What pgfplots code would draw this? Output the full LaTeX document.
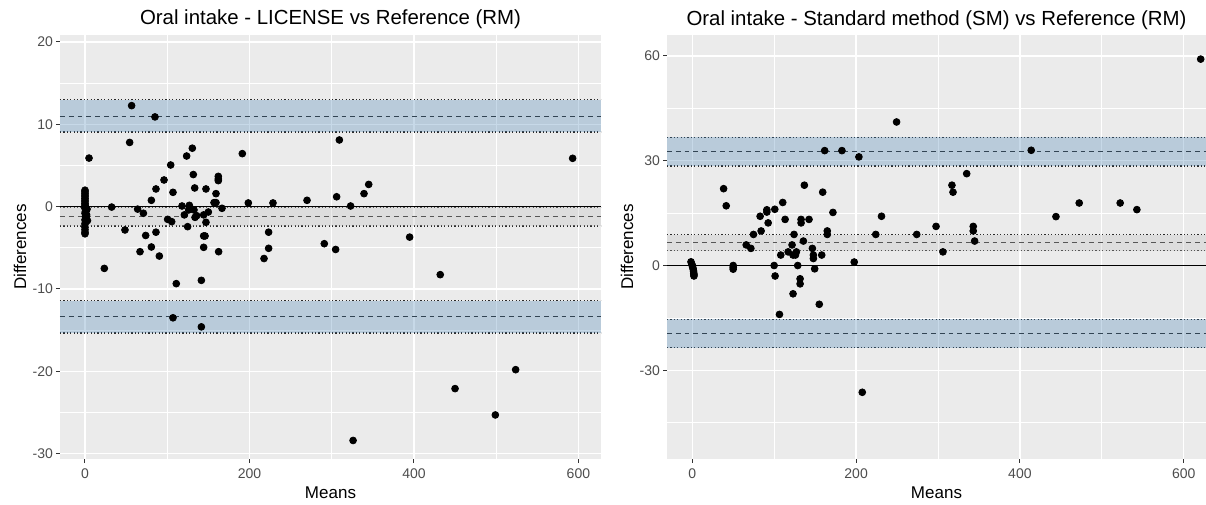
\documentclass[border=0pt]{standalone}
\usepackage{fontspec}
\setmainfont{Liberation Sans}
\usepackage{pgfplots}
\pgfplotsset{compat=1.18}
\definecolor{ggbg}{HTML}{EBEBEB}
\definecolor{ticklab}{HTML}{4D4D4D}
\definecolor{tickcol}{HTML}{333333}
\definecolor{steel}{HTML}{4682B4}
\definecolor{greyband}{HTML}{BEBEBE}
\definecolor{linecol}{HTML}{2A2A2A}
\pgfplotsset{
  ggstyle/.style={
    scale only axis,
    width=270pt, height=212pt,
    axis background/.style={fill=ggbg},
    axis x line*=bottom, axis y line*=left,
    axis line style={draw=none},
    tick align=outside,
    major tick length=2pt,
    minor tick length=0pt,
    tick style={color=tickcol, line width=0.5pt},
    grid=both,
    major grid style={white, line width=0.7pt},
    minor grid style={white, line width=0.35pt},
    xtick={0,200,400,600},
    minor xtick={100,300,500},
    ticklabel style={font=\fontsize{7}{8}\selectfont, color=ticklab},
    /pgf/number format/assume math mode=true,
    xticklabel style={yshift=0.6pt},
    yticklabel style={xshift=2pt},
    every axis title/.style={at={(axis description cs:0.5,1)}, anchor=base, yshift=5pt, font=\fontsize{10.2}{12}\selectfont},
    every axis x label/.style={at={(axis description cs:0.5,-0.0943)}, anchor=base, font=\fontsize{8.5}{10}\selectfont},
    every axis y label/.style={at={(axis description cs:-0.074,0.5)}, anchor=center, rotate=90, font=\fontsize{8.5}{10}\selectfont},
    xlabel={Means},
    ylabel={Differences},
    pts/.style={only marks, mark=*, mark size=1.7pt, black},
    dashl/.style={linecol, line width=0.5pt, dash pattern=on 2.4pt off 2pt},
    dotl/.style={linecol, line width=0.6pt, dash pattern=on 0.6pt off 1.1pt},
    zerol/.style={black, line width=0.55pt},
  }
}
\begin{document}
\begin{tikzpicture}
\useasboundingbox (0,0) rectangle (603pt,252pt);
% ---------------- Left panel ----------------
\begin{axis}[ggstyle, at={(30pt,22.5pt)}, anchor=south west,
  width=270.5pt,
  xmin=-30.4, xmax=627.5, ymin=-30.65, ymax=20.85,
  ytick={-30,-20,-10,0,10,20}, minor ytick={-25,-15,-5,5,15},
  title={Oral intake - LICENSE vs Reference (RM)}]
\addplot[pts] coordinates {
(0,2.0) (0,1.8) (0,1.6) (0,1.4) (0,1.2) (0,1.0) (0,0.8) (0,0.6) (0,0.4) (0,0.2)
(0,0.0) (0.5,0.0) (0,-0.2) (1,-0.4) (0.5,-0.6) (0,-0.8) (2,-1.0) (0.5,-1.2) (1.5,-1.4)
(0,-1.6) (3,-1.7) (0.5,-1.9) (0,-2.1) (0,-2.5) (0,-2.8) (0,-3.1) (0,-3.3) (2.5,-0.3)
(4.9,5.9) (56.7,12.27) (85.1,10.9) (54.3,7.8) (32.4,-0.05) (48.6,-2.83) (23.5,-7.5)
(64,-0.3) (71,-0.8) (66.9,-5.47) (73.8,-3.5) (80.7,-4.9) (80.7,0.77) (86.3,2.15)
(86.3,-3.1) (90.4,-6.0) (96.1,3.24) (104.2,5.06) (107,1.74) (100.5,-1.54) (105.4,-1.82)
(111,-9.35) (107,-13.5) (118,0.08) (123.6,6.15) (130.5,7.1) (126.9,0.16) (120.8,-1.0)
(124.8,-2.43) (126,-0.4) (131.7,3.9) (133.4,2.27) (132.5,-0.4) (133.8,-1.3) (135.8,-1.1)
(141.5,-8.95) (141.5,-14.6) (144.3,-3.56) (146,-3.56) (144.3,-4.94) (144.3,-1.0)
(147.1,2.15) (147.1,-1.9) (150,-0.65) (156.9,0.49) (159.3,0.49) (159.3,1.58)
(162.1,3.68) (162.1,3.36) (162.1,3.16) (162.5,-5.47) (166.6,-0.2) (191.3,6.44)
(198.6,0.45) (217.7,-6.3) (223.3,-3.1) (223.3,-5.06) (228.6,0.45) (270,0.77)
(291,-4.5) (304.8,-5.2) (306,1.2) (309.3,8.1) (323,0.08) (339.3,1.58) (345,2.7)
(326,-28.4) (394.8,-3.7) (432,-8.26) (450,-22.1) (499,-25.3) (523.7,-19.8) (593,5.87)
};
\addplot[zerol] coordinates {(-30.4,0) (627.5,0)};
\addplot[dashl] coordinates {(-30.4,10.95) (627.5,10.95)};
\addplot[dotl] coordinates {(-30.4,13.0) (627.5,13.0)};
\addplot[dotl] coordinates {(-30.4,9.07) (627.5,9.07)};
\addplot[dashl] coordinates {(-30.4,-1.21) (627.5,-1.21)};
\addplot[dotl] coordinates {(-30.4,-0.08) (627.5,-0.08)};
\addplot[dotl] coordinates {(-30.4,-2.34) (627.5,-2.34)};
\addplot[dashl] coordinates {(-30.4,-13.4) (627.5,-13.4)};
\addplot[dotl] coordinates {(-30.4,-11.4) (627.5,-11.4)};
\addplot[dotl] coordinates {(-30.4,-15.35) (627.5,-15.35)};
\addplot[draw=none, fill=steel, fill opacity=0.3] coordinates {(-30.4,9.07) (627.5,9.07) (627.5,13.0) (-30.4,13.0)};
\addplot[draw=none, fill=greyband, fill opacity=0.3] coordinates {(-30.4,-2.34) (627.5,-2.34) (627.5,-0.08) (-30.4,-0.08)};
\addplot[draw=none, fill=steel, fill opacity=0.3] coordinates {(-30.4,-15.35) (627.5,-15.35) (627.5,-11.4) (-30.4,-11.4)};
\end{axis}
% ---------------- Right panel ----------------
\begin{axis}[ggstyle, at={(333.5pt,22.5pt)}, anchor=south west,
  width=269.5pt,
  xmin=-30.9, xmax=627.2, ymin=-55.4, ymax=66.0,
  ytick={-30,0,30,60}, minor ytick={-45,-15,15,45},
  title={Oral intake - Standard method (SM) vs Reference (RM)}]
\addplot[pts] coordinates {
(-1.6,1.05) (-0.5,0.3) (0,0) (0.5,-0.5) (1,-1) (1.5,-1.6) (1.8,-2.2) (2,-2.6) (2,-3.0)
(38.2,22.0) (41.4,17.1) (49.9,0) (49.9,-0.5) (49.9,-1.05) (65.8,5.9) (71.5,4.9)
(74.7,8.9) (82.8,14.1) (84,9.9) (91,15.95) (91,15.3) (92.6,12.2) (99.9,0) (100.7,16.1)
(101.1,-3.0) (106.4,-14.0) (108,3.0) (110.4,18.05) (113.3,13.2) (117,3.9) (121.8,5.9)
(123,3.0) (123,-8.1) (124.2,8.9) (125.9,3.0) (127.1,3.9) (128.7,0) (131.6,-3.8)
(131.6,-5.25) (132.8,13.2) (132.8,12.2) (135.6,7.0) (136.8,23.0) (142.5,13.2)
(146.6,4.9) (147.8,3.0) (147.8,2.0) (149.4,-0.95) (155,-11.1) (158,3.0) (159.2,21.0)
(161.6,32.9) (164.8,9.9) (164.8,8.9) (171.7,15.2) (182.7,32.9) (197.7,1.0) (203.4,31.1)
(207.5,-36.3) (224,8.9) (231,14.1) (249.4,41.1) (274,8.9) (297.6,11.2) (306,3.9)
(317,23.0) (318.3,21.0) (335,26.3) (343,11.2) (343,9.9) (344.7,7.0) (413.8,33.0)
(444,14.0) (472.4,17.9) (522.4,17.9) (542.8,16.0) (620.7,59.1)
};
\addplot[zerol] coordinates {(-30.9,0) (627.2,0)};
\addplot[dashl] coordinates {(-30.9,32.6) (627.2,32.6)};
\addplot[dotl] coordinates {(-30.9,36.7) (627.2,36.7)};
\addplot[dotl] coordinates {(-30.9,28.5) (627.2,28.5)};
\addplot[dashl] coordinates {(-30.9,6.58) (627.2,6.58)};
\addplot[dotl] coordinates {(-30.9,8.88) (627.2,8.88)};
\addplot[dotl] coordinates {(-30.9,4.28) (627.2,4.28)};
\addplot[dashl] coordinates {(-30.9,-19.5) (627.2,-19.5)};
\addplot[dotl] coordinates {(-30.9,-15.4) (627.2,-15.4)};
\addplot[dotl] coordinates {(-30.9,-23.5) (627.2,-23.5)};
\addplot[draw=none, fill=steel, fill opacity=0.3] coordinates {(-30.9,28.5) (627.2,28.5) (627.2,36.7) (-30.9,36.7)};
\addplot[draw=none, fill=greyband, fill opacity=0.3] coordinates {(-30.9,4.28) (627.2,4.28) (627.2,8.88) (-30.9,8.88)};
\addplot[draw=none, fill=steel, fill opacity=0.3] coordinates {(-30.9,-23.5) (627.2,-23.5) (627.2,-15.4) (-30.9,-15.4)};
\end{axis}
\end{tikzpicture}
\end{document}
